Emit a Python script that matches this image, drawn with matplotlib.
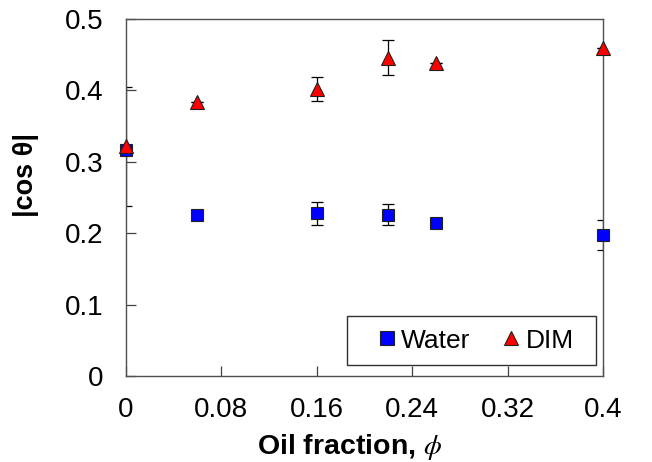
import matplotlib
matplotlib.use("Agg")
import matplotlib.pyplot as plt
from matplotlib.lines import Line2D
from matplotlib.patches import Rectangle

plt.rcParams['font.family'] = ['Liberation Sans', 'DejaVu Sans']
plt.rcParams['mathtext.fontset'] = 'stix'

# data
phi = [0.0, 0.06, 0.16, 0.22, 0.26, 0.40]
water = [0.316, 0.226, 0.228, 0.226, 0.214, 0.197]
water_err = [0.0, 0.0, 0.016, 0.015, 0.0, 0.021]
dim = [0.3215, 0.384, 0.402, 0.446, 0.439, 0.460]
dim_err = [0.083, 0.0, 0.017, 0.024, 0.0, 0.0]
xticks = [0, 0.08, 0.16, 0.24, 0.32, 0.4]
xticklabels = ['0', '0.08', '0.16', '0.24', '0.32', '0.4']
yticks = [0, 0.1, 0.2, 0.3, 0.4, 0.5]
yticklabels = ['0', '0.1', '0.2', '0.3', '0.4', '0.5']

fig = plt.figure(figsize=(6.52, 4.62), dpi=100)
ax = fig.add_axes([0.193, 0.186, 0.732, 0.773])

# error bars (clipped to axes)
ax.errorbar(phi, water, yerr=water_err, fmt='none', ecolor='black',
            elinewidth=0.9, capsize=4, capthick=0.9, zorder=2)
ax.errorbar(phi, dim, yerr=dim_err, fmt='none', ecolor='black',
            elinewidth=0.9, capsize=4, capthick=0.9, zorder=2)
# markers
ax.plot(phi, water, 's', mfc='blue', mec='#202020', mew=0.8, ms=9,
        label='Water', zorder=3, clip_on=False)
ax.plot(phi, dim, '^', mfc='red', mec='#202020', mew=0.8, ms=9.5,
        label='DIM', zorder=4, clip_on=False)

ax.set_xlim(0, 0.4)
ax.set_ylim(0, 0.5)
ax.set_xticks(xticks)
ax.set_xticklabels(xticklabels)
ax.set_yticks(yticks)
ax.set_yticklabels(yticklabels)
ax.tick_params(axis='both', direction='in', length=7, width=0.9,
               labelsize=20, color='#404040')
ax.tick_params(axis='x', pad=15)
ax.tick_params(axis='y', pad=16)
for s in ax.spines.values():
    s.set_color('#505050')
    s.set_linewidth(1.0)

fig.text(350 / 652, 1 - 447 / 462, r'Oil fraction, $\phi$', fontsize=20.5,
         fontweight='bold', ha='center', va='center')
fig.text(26 / 652, 1 - 175 / 462, '|cos θ|', fontsize=19.5, fontweight='bold',
         rotation=90, ha='center', va='center')

# legend
h1 = Line2D([], [], marker='s', ls='none', mfc='blue', mec='#202020', mew=0.8, ms=9.5)
h2 = Line2D([], [], marker='^', ls='none', mfc='red', mec='#202020', mew=0.8, ms=10)
leg = ax.legend([h1, h2], ['Water', 'DIM'], loc='center', ncol=2,
                fontsize=19, frameon=False,
                handlelength=0.7, handletextpad=0.2, columnspacing=1.2,
                borderpad=0.0, bbox_to_anchor=(0.733, 0.0994))
ax.add_patch(Rectangle((0.463, 0.031), 0.985 - 0.463, 0.168 - 0.031,
                       transform=ax.transAxes, fill=False, edgecolor='#303030',
                       linewidth=1.0, zorder=5))

fig.savefig('out.png', dpi=100)
